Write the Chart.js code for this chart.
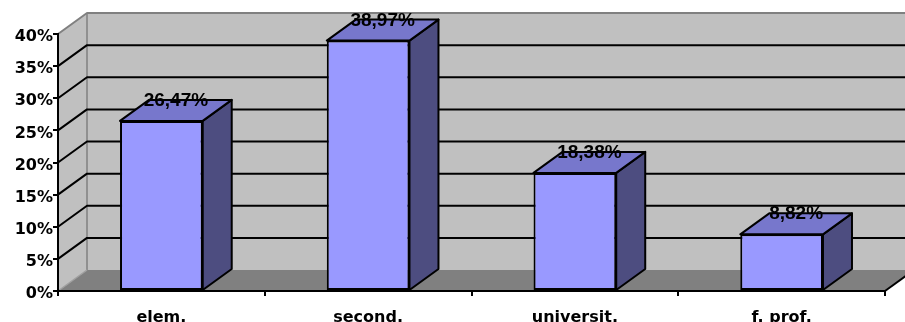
<!DOCTYPE html>
<html>
<head>
<meta charset="utf-8">
<script src="https://cdn.jsdelivr.net/npm/chart.js@4/dist/chart.umd.min.js"></script>
<style>
  html, body { margin: 0; padding: 0; background: #ffffff; }
  canvas { display: block; }
</style>
</head>
<body>
<canvas id="chart" width="905" height="322"></canvas>
<script>
// Education level shares (percent)
const categories = ['elem.', 'second.', 'universit.', 'f. prof.'];
const shares = [26.47, 38.97, 18.38, 8.82];
const percentTicks = [0, 5, 10, 15, 20, 25, 30, 35, 40];

// Receding depth of the pseudo-3D box (pixels)
const DEPTH_X = 29;
const DEPTH_Y = -21;

const WALL = '#c0c0c0';
const FLOOR = '#808080';
const EDGE = '#808080';
const BAR_FRONT = '#9999ff';
const BAR_TOP = '#7777cc';
const BAR_SIDE = '#4d4d80';

function poly(ctx, pts, fill, stroke, width) {
  ctx.beginPath();
  ctx.moveTo(pts[0][0], pts[0][1]);
  for (let i = 1; i < pts.length; i++) ctx.lineTo(pts[i][0], pts[i][1]);
  ctx.closePath();
  if (fill) { ctx.fillStyle = fill; ctx.fill(); }
  if (stroke) { ctx.strokeStyle = stroke; ctx.lineWidth = width || 1; ctx.stroke(); }
}

function line(ctx, pts, color, width) {
  ctx.beginPath();
  ctx.moveTo(pts[0][0], pts[0][1]);
  for (let i = 1; i < pts.length; i++) ctx.lineTo(pts[i][0], pts[i][1]);
  ctx.strokeStyle = color;
  ctx.lineWidth = width;
  ctx.stroke();
}

const box3d = {
  id: 'box3d',
  beforeDraw(chart) {
    const ctx = chart.ctx;
    const { left, right, top, bottom } = chart.chartArea;
    const ys = chart.scales.y;
    const dx = DEPTH_X, dy = DEPTH_Y;
    ctx.save();
    ctx.fillStyle = '#ffffff';
    ctx.fillRect(0, 0, chart.width, chart.height);

    // back wall, side wall and floor
    ctx.fillStyle = WALL;
    ctx.fillRect(left + dx, top + dy, right - left + 40, bottom - top);
    poly(ctx, [[left, top], [left + dx, top + dy], [left + dx, bottom + dy], [left, bottom]], WALL);
    poly(ctx, [[left, bottom], [left + dx, bottom + dy], [right + dx, bottom + dy], [right, bottom]], FLOOR);

    // wall outlines
    ctx.lineJoin = 'round';
    line(ctx, [[left, top], [left + dx, top + dy], [right + dx + 40, top + dy]], EDGE, 2);
    line(ctx, [[left + dx, top + dy], [left + dx, bottom + dy]], EDGE, 1.5);
    line(ctx, [[left, bottom], [left + dx, bottom + dy]], '#a0a0a0', 1.5);

    // gridlines across side and back wall
    percentTicks.forEach(v => {
      if (v === percentTicks[0] || v === percentTicks[percentTicks.length - 1]) return;
      const y = ys.getPixelForValue(v);
      line(ctx, [[left, y], [left + dx, y + dy], [right + dx + 40, y + dy]], '#000000', 2);
    });

    // right edge of the floor
    line(ctx, [[right, bottom], [right + dx, bottom + dy]], '#000000', 2);
    ctx.restore();
  },
  afterDatasetsDraw(chart) {
    const ctx = chart.ctx;
    const dx = DEPTH_X, dy = DEPTH_Y;
    const meta = chart.getDatasetMeta(0);
    ctx.save();
    ctx.lineJoin = 'round';
    meta.data.forEach(bar => {
      const p = bar.getProps(['x', 'y', 'base', 'width'], true);
      const l = p.x - p.width / 2;
      const r = p.x + p.width / 2;
      const t = p.y;
      const b = p.base;
      poly(ctx, [[r, t], [r + dx, t + dy], [r + dx, b + dy], [r, b]], BAR_SIDE, '#000000', 2);
      poly(ctx, [[l, t], [l + dx, t + dy], [r + dx, t + dy], [r, t]], BAR_TOP, '#000000', 2);
    });
    ctx.restore();
  },
  afterDraw(chart) {
    const ctx = chart.ctx;
    const meta = chart.getDatasetMeta(0);
    ctx.save();
    ctx.font = 'bold 19px "Liberation Sans", Arial, sans-serif';
    ctx.fillStyle = '#000000';
    ctx.textAlign = 'center';
    ctx.textBaseline = 'alphabetic';
    meta.data.forEach((bar, i) => {
      const p = bar.getProps(['x', 'y'], true);
      const txt = shares[i].toFixed(2).replace('.', ',') + '%';
      ctx.fillText(txt, p.x + DEPTH_X / 2, p.y - 15);
    });
    ctx.restore();
  }
};

new Chart(document.getElementById('chart'), {
  type: 'bar',
  data: {
    labels: categories,
    datasets: [{
      data: shares,
      backgroundColor: BAR_FRONT,
      borderColor: '#000000',
      borderWidth: 2,
      borderSkipped: false,
      barPercentage: 0.4,
      categoryPercentage: 1.0
    }]
  },
  options: {
    responsive: false,
    animation: false,
    devicePixelRatio: 1,
    events: [],
    layout: { padding: { top: 34, right: 20, left: 0, bottom: 0 } },
    plugins: { legend: { display: false }, tooltip: { enabled: false } },
    scales: {
      x: {
        offset: true,
        grid: { offset: true, drawOnChartArea: false, drawTicks: true, tickLength: 5, color: '#000000', lineWidth: 2 },
        border: { display: true, color: '#000000', width: 2 },
        ticks: {
          color: '#000000',
          padding: 12,
          maxRotation: 0,
          font: { family: '"DejaVu Sans"', size: 16, weight: 'bold' }
        },
        afterFit(scale) { scale.height = 31; }
      },
      y: {
        min: 0,
        max: 40,
        afterBuildTicks(scale) { scale.ticks = percentTicks.map(v => ({ value: v })); },
        grid: { drawOnChartArea: false, drawTicks: true, tickLength: 5, color: '#000000', lineWidth: 2 },
        border: { display: true, color: '#000000', width: 2 },
        ticks: {
          color: '#000000',
          padding: 0,
          labelOffset: 3,
          font: { family: '"DejaVu Sans"', size: 16, weight: 'bold' },
          callback: v => v + '%'
        },
        afterFit(scale) { scale.width = 58; }
      }
    }
  },
  plugins: [box3d]
});
</script>
</body>
</html>
